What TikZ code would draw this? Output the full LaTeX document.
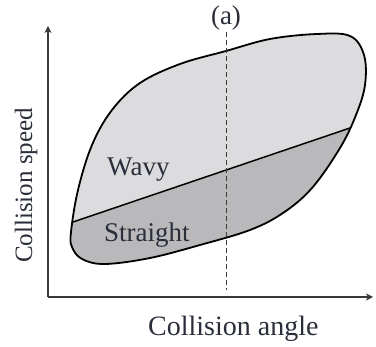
\documentclass[tikz,border=0pt]{standalone}
\usepackage{fontspec}
\setmainfont{Liberation Serif}
\usetikzlibrary{arrows.meta,calc}
\definecolor{lightfill}{HTML}{DCDCDE}
\definecolor{darkfill}{HTML}{B9B9BC}
\definecolor{txt}{HTML}{2A2E3A}
\definecolor{axisc}{HTML}{3A3A3A}
\tikzset{
  axisline/.style={draw=axisc, line width=1.1pt, -{Stealth[length=7pt,width=7pt,inset=2pt]}},
  outline/.style={draw=black, line width=1.8pt},
  divider/.style={draw=black, line width=1.5pt},
  guide/.style={draw=axisc, line width=0.6pt, dash pattern=on 5pt off 3pt},
  lbl/.style={text=txt, inner sep=0pt, font=\fontsize{27}{30}\selectfont},
}
\begin{document}
\begin{tikzpicture}[x=1pt,y=-1pt]
\useasboundingbox (0,0) rectangle (376,347);
\def\blob{plot[smooth cycle, tension=0.6] coordinates {
 (71,232) (78,190) (92,145) (112,110) (140,83) (180,64) (226,51) (270,39)
 (317,34) (350,36) (364,55) (365,85) (356,115) (340,148) (312,188) (283,213)
 (250,230) (200,245) (150,258) (105,264) (82,259) (72,247)}}
\coordinate (A) at (73,222);
\coordinate (B) at (350,128);
\coordinate (origin) at (48,297);
\coordinate (ytip) at (48,26);
\coordinate (xtip) at (373,297);
\coordinate (dtop) at (226,32);
\coordinate (dbot) at (226,290);
% fills
\fill[lightfill] \blob;
\begin{scope}
\clip \blob;
\fill[darkfill] ($(A)!-0.1!(B)$) -- ($(B)!-0.1!(A)$) -- (400,118) -- (400,330) -- (30,330) -- (30,232) -- cycle;
\end{scope}
\draw[divider] (A) -- (B);
\draw[outline] \blob;
% axes
\draw[axisline] (origin) -- (ytip);
\draw[axisline] (origin) -- (xtip);
\draw[guide] (dtop) -- (dbot);
% labels
\node[lbl, anchor=base] (a) at (226,25) {(a)};
\node[lbl, anchor=base west] (wavy) at (107,176) {Wavy};
\node[lbl, anchor=base west] (straight) at (104,242) {Straight};
\node[lbl, anchor=base west, font=\fontsize{28}{31}\selectfont] (xlab) at (148,336) {Collision angle};
\node[lbl, anchor=base west, rotate=90, font=\fontsize{25}{28}\selectfont] (ylab) at (32,263) {Collision speed};
\end{tikzpicture}
\end{document}
